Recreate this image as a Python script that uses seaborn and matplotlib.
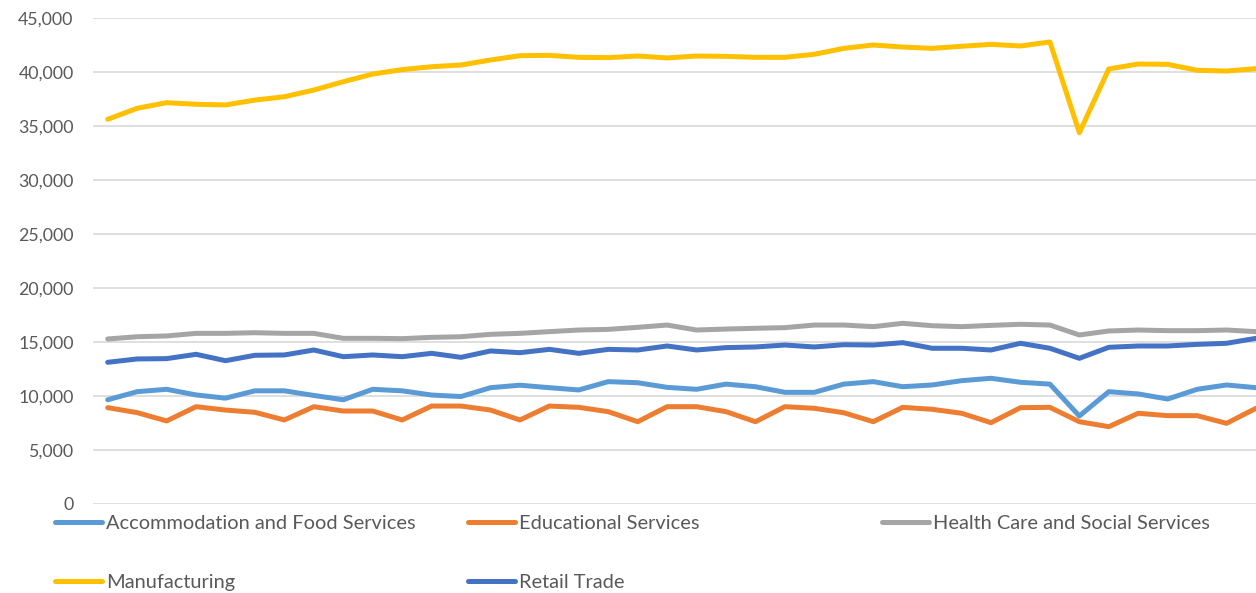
import pandas as pd
import matplotlib.pyplot as plt
import seaborn as sns

# values (40 periods, no x labels shown)
accommodation = [9650, 10400, 10620, 10100, 9800, 10480, 10480, 10050, 9650, 10620,
                 10480, 10090, 9950, 10770, 11000, 10770, 10560, 11330, 11230, 10800,
                 10620, 11100, 10860, 10340, 10340, 11100, 11330, 10860, 11020, 11420,
                 11640, 11270, 11100, 8150, 10400, 10190, 9720, 10620, 11020, 10770]
educational = [8920, 8460, 7690, 9010, 8700, 8490, 7780, 9010, 8610, 8610,
               7780, 9070, 9070, 8700, 7780, 9070, 8950, 8550, 7620, 9010,
               9010, 8550, 7620, 9010, 8860, 8450, 7620, 8950, 8770, 8400,
               7530, 8920, 8950, 7620, 7160, 8400, 8180, 8180, 7470, 8860]
health = [15280, 15490, 15560, 15800, 15800, 15860, 15800, 15800, 15340, 15340,
          15310, 15430, 15490, 15710, 15800, 15960, 16110, 16170, 16360, 16570,
          16110, 16200, 16270, 16330, 16570, 16570, 16420, 16730, 16510, 16420,
          16540, 16640, 16570, 15650, 16020, 16110, 16050, 16050, 16110, 15960]
manufacturing = [35620, 36640, 37160, 37010, 36950, 37400, 37710, 38330, 39100, 39810,
                 40220, 40490, 40650, 41110, 41510, 41540, 41360, 41330, 41480, 41300,
                 41480, 41450, 41360, 41360, 41640, 42190, 42500, 42310, 42190, 42380,
                 42560, 42410, 42780, 34380, 40280, 40740, 40710, 40160, 40090, 40310]
retail = [13120, 13430, 13460, 13860, 13270, 13770, 13800, 14260, 13640, 13800,
          13640, 13950, 13580, 14170, 14010, 14320, 13950, 14320, 14260, 14630,
          14260, 14480, 14540, 14720, 14540, 14750, 14720, 14940, 14420, 14420,
          14260, 14880, 14420, 13490, 14510, 14630, 14630, 14780, 14880, 15340]

series_names = ["Accommodation and Food Services", "Educational Services",
                "Health Care and Social Services", "Manufacturing", "Retail Trade"]
colors = ["#5B9BD5", "#ED7D31", "#A5A5A5", "#FFC000", "#4472C4"]

wide = pd.DataFrame(dict(zip(series_names,
                             [accommodation, educational, health, manufacturing, retail])))
wide["period"] = range(len(wide))
data = wide.melt(id_vars="period", var_name="industry", value_name="value")

sns.set_style("white")
plt.rcParams['font.family'] = ['Lato', 'DejaVu Sans']
text_color = "#595959"

fig = plt.figure(figsize=(12.56, 5.93), dpi=100)
ax = fig.add_axes([93 / 1256, 1 - 504 / 593, 1 - 93 / 1256, (504 - 18) / 593])

sns.lineplot(data=data, x="period", y="value", hue="industry",
             palette=dict(zip(series_names, colors)), linewidth=3.6, ax=ax)

ax.set_xlim(-0.5, 39)
ax.set_ylim(0, 45000)
ax.set_yticks(range(0, 45001, 5000))
ax.yaxis.set_major_formatter(plt.FuncFormatter(lambda v, p: f"{int(v):,}"))
ax.tick_params(axis="y", length=0, pad=14, labelsize=12.8, labelcolor=text_color)
ax.set_xticks([])
ax.set_xlabel("")
ax.set_ylabel("")
ax.grid(axis="y", color="#d9d9d9", linewidth=1.2)
ax.set_axisbelow(True)
for s in ax.spines.values():
    s.set_visible(False)

# legend laid out in three fixed columns like the original
handles, labels = ax.get_legend_handles_labels()
ax.get_legend().remove()
lookup = dict(zip(labels, handles))
columns = [(["Accommodation and Food Services", "Manufacturing"], 55),
           (["Educational Services", "Retail Trade"], 468),
           (["Health Care and Social Services"], 882)]
for names, xpix in columns:
    leg = fig.legend([lookup[n] for n in names], names, loc="upper left",
                     bbox_to_anchor=(xpix / 1256, 1 - 515 / 593), frameon=False,
                     borderpad=0, borderaxespad=0, handlelength=2.35,
                     handletextpad=0.2, labelspacing=2.1, fontsize=14.4,
                     labelcolor=text_color)
    for line in leg.get_lines():
        line.set_linewidth(3.6)
        line.set_solid_capstyle("round")

fig.savefig("out.png", dpi=100)
